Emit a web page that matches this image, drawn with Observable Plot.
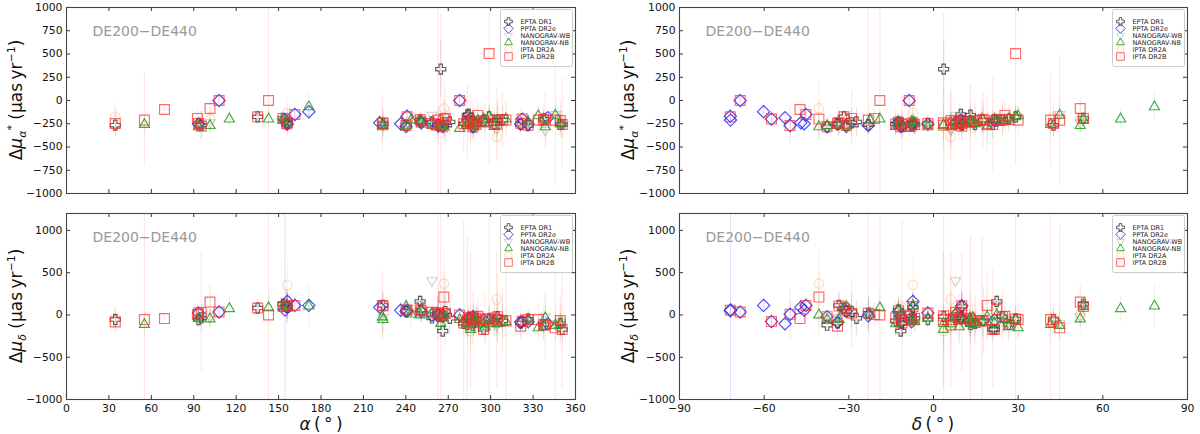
<!DOCTYPE html>
<html>
<head>
<meta charset="utf-8">
<script src="https://cdn.jsdelivr.net/npm/d3@7"></script>
<script src="https://cdn.jsdelivr.net/npm/@observablehq/plot@0.6"></script>
<style>
  body { margin: 0; background: #fff; font-family: "DejaVu Sans", sans-serif; }
  #chart { position: relative; width: 1200px; height: 434px; overflow: hidden; }
  #chart > svg, #chart > .lbl { position: absolute; }
  .lbl { font-size: 17px; color: #111; white-space: nowrap; line-height: 1; }
  .lbl sup, .lbl sub { font-size: 11px; line-height: 0; }
  .rot { transform: translate(-50%, -50%) rotate(-90deg); }
  .hor { transform: translate(-50%, -50%); }
</style>
</head>
<body>
<div id="chart"></div>
<script>
// pulsar positions: name, right ascension (deg), declination (deg)
const pulsars = [
  ["J0218+4232", 34.5, 42.5], ["J0340+4130", 55.1, 41.5], ["J0437-4715", 69.3, -47.3],
  ["J0610-2100", 92.6, -21.0], ["J0613-0200", 93.4, -2.0], ["J0621+1002", 95.3, 10.0],
  ["J0645+5158", 101.5, 52.0], ["J0711-6830", 107.9, -68.5], ["J0740+6620", 115.2, 66.3],
  ["J0900-3144", 135.2, -31.7], ["J0931-1902", 142.9, -19.0], ["J1012+5307", 153.1, 53.1],
  ["J1017-7156", 154.5, -71.9], ["J1022+1001", 155.7, 10.0], ["J1024-0719", 156.2, -7.3],
  ["J1045-4509", 161.5, -45.2], ["J1125+7819", 171.4, 78.3], ["J1125-6014", 171.4, -60.2],
  ["J1446-4701", 221.6, -47.0], ["J1453+1902", 223.4, 19.0], ["J1455-3330", 223.9, -33.5],
  ["J1545-4550", 236.4, -45.8], ["J1600-3053", 240.2, -30.9], ["J1603-7202", 240.9, -72.0],
  ["J1614-2230", 243.7, -22.5], ["J1640+2224", 250.1, 22.4], ["J1643-1224", 250.9, -12.4],
  ["J1713+0747", 258.5, 7.8], ["J1730-2304", 262.6, -23.1], ["J1732-5049", 263.1, -50.8],
  ["J1738+0333", 264.7, 3.6], ["J1741+1351", 265.4, 13.9], ["J1744-1134", 266.1, -11.6],
  ["J1747-4036", 266.9, -40.6], ["J1751-2857", 267.9, -29.0], ["J1804-2717", 271.1, -27.3],
  ["J1832-0836", 278.1, -8.6], ["J1843-1113", 280.9, -11.2], ["J1853+1303", 283.5, 13.1],
  ["J1857+0943", 284.4, 9.7], ["J1903+0327", 285.8, 3.5], ["J1909-3744", 287.4, -37.7],
  ["J1910+1256", 287.5, 12.9], ["J1911-1114", 287.9, -11.2], ["J1918-0642", 289.7, -6.7],
  ["J1923+2515", 290.9, 25.3], ["J1939+2134", 295.0, 21.6], ["J1944+0907", 296.0, 9.1],
  ["J1955+2908", 298.9, 29.1], ["J2010-1323", 302.6, -13.4], ["J2017+0603", 304.3, 6.1],
  ["J2019+2425", 304.9, 24.4], ["J2033+1734", 308.4, 17.6], ["J2043+1711", 310.8, 17.2],
  ["J2124-3358", 321.2, -34.0], ["J2129-5721", 322.3, -57.4], ["J2145-0750", 326.5, -7.8],
  ["J2214+3000", 333.7, 30.0], ["J2229+2643", 337.5, 26.7], ["J2234+0611", 338.6, 6.2],
  ["J2241-5236", 340.4, -52.6], ["J2302+4442", 345.7, 44.7], ["J2317+1439", 349.3, 14.7],
  ["J2322+2057", 350.6, 21.0]
];

// per data set: pulsar, Δμα*, σ, Δμδ, σ  (μas/yr)
const eptaDR1 = [
  ["J0218+4232", -265, 120, -55, 100], ["J0613-0200", -250, 60, -55, 70], ["J0621+1002", -265, 150, -35, 150],
  ["J0900-3144", -175, 60, 82, 60], ["J1012+5307", -193, 40, 129, 60], ["J1022+1001", -254, 80, 100, 200],
  ["J1024-0719", -240, 100, 90, 150], ["J1455-3330", -250, 90, 113, 150], ["J1600-3053", -265, 60, 43, 80],
  ["J1640+2224", -211, 60, 160, 80], ["J1643-1224", -230, 80, 60, 120], ["J1713+0747", -230, 40, -35, 40],
  ["J1730-2304", -260, 100, 20, 200], ["J1738+0333", 337, 300, -20, 150], ["J1744-1134", -270, 60, -191, 60],
  ["J1751-2857", -240, 150, 40, 200], ["J1804-2717", -230, 150, -40, 200], ["J1843-1113", -250, 100, -100, 150],
  ["J1853+1303", -158, 80, -113, 150], ["J1857+0943", -150, 80, -35, 80], ["J1909-3744", -283, 30, -121, 40],
  ["J1910+1256", -220, 100, -60, 120], ["J1911-1114", -280, 120, -90, 150], ["J1918-0642", -255, 80, -40, 100],
  ["J1939+2134", -215, 40, -172, 60], ["J1955+2908", -175, 120, -47, 150], ["J2010-1323", -250, 100, -70, 120],
  ["J2019+2425", -210, 150, -20, 200], ["J2033+1734", -210, 150, -70, 200], ["J2124-3358", -254, 80, -94, 100],
  ["J2145-0750", -270, 60, -50, 80], ["J2229+2643", -200, 80, -113, 100], ["J2317+1439", -258, 80, -100, 100],
  ["J2322+2057", -258, 150, -172, 150]
];
const pptaDR2e = [
  ["J0613-0200", -254, 40, 23, 50], ["J0711-6830", 0, 30, 35, 40], ["J1017-7156", -211, 80, 60, 1400],
  ["J1022+1001", -229, 60, 110, 150], ["J1024-0719", -254, 60, 160, 100], ["J1045-4509", -150, 60, 113, 80],
  ["J1125-6014", -120, 60, 113, 80], ["J1446-4701", -240, 80, 90, 100], ["J1545-4550", -250, 80, 55, 100],
  ["J1600-3053", -280, 40, 43, 60], ["J1603-7202", -170, 60, 50, 80], ["J1643-1224", -240, 80, 40, 120],
  ["J1713+0747", -250, 30, 0, 40], ["J1730-2304", -270, 100, -10, 200], ["J1732-5049", -270, 100, 8, 150],
  ["J1744-1134", -280, 40, -16, 50], ["J1832-0836", 0, 60, 0, 80], ["J1857+0943", -211, 80, -35, 100],
  ["J1909-3744", -283, 20, -20, 30], ["J1939+2134", -215, 40, -60, 60], ["J2124-3358", -254, 80, -86, 100],
  ["J2129-5721", -200, 60, -78, 80], ["J2145-0750", -254, 60, -80, 80], ["J2241-5236", -185, 60, -105, 80]
];
const nanogravWB = [
  ["J0613-0200", -260, 80, -55, 100], ["J0645+5158", -240, 100, -20, 150], ["J1012+5307", -200, 80, 100, 100],
  ["J1455-3330", -250, 150, -30, 200], ["J1600-3053", -260, 80, 80, 100], ["J1640+2224", -200, 80, 130, 100],
  ["J1713+0747", -158, 40, 406, 60], ["J1744-1134", -270, 80, -30, 100], ["J1853+1303", -230, 150, -150, 200],
  ["J1909-3744", -260, 30, -40, 40], ["J1918-0642", -290, 100, -60, 150], ["J1939+2134", -210, 60, -90, 80],
  ["J2017+0603", -300, 150, -120, 200], ["J2145-0750", -230, 100, -80, 150], ["J2234+0611", -320, 150, -20, 200],
  ["J2302+4442", -150, 150, -100, 200], ["J2317+1439", -240, 100, -90, 150]
];
const nanogravNB = [
  ["J0340+4130", -258, 100, -113, 150], ["J0613-0200", -283, 60, -35, 80], ["J0645+5158", -270, 80, -47, 100],
  ["J0740+6620", -200, 100, 74, 150], ["J0931-1902", -200, 100, 85, 150], ["J1012+5307", -210, 60, 100, 80],
  ["J1024-0719", -230, 100, 110, 150], ["J1125+7819", -68, 150, 105, 250], ["J1453+1902", -283, 150, -23, 250],
  ["J1455-3330", -270, 100, -55, 150], ["J1600-3053", -270, 60, 100, 80], ["J1614-2230", -210, 100, 10, 150],
  ["J1640+2224", -215, 60, 0, 80], ["J1643-1224", -240, 80, 60, 150], ["J1713+0747", -265, 30, 20, 40],
  ["J1738+0333", -265, 100, -100, 150], ["J1741+1351", -240, 100, -30, 150], ["J1744-1134", -265, 60, 5, 80],
  ["J1747-4036", -283, 150, 0, 250], ["J1832-0836", -300, 100, -55, 150], ["J1853+1303", -250, 100, -100, 150],
  ["J1857+0943", -230, 60, -60, 80], ["J1903+0327", -265, 150, -172, 200], ["J1909-3744", -270, 20, -55, 30],
  ["J1910+1256", -220, 100, -40, 150], ["J1918-0642", -240, 80, -80, 100], ["J1923+2515", -215, 100, -60, 150],
  ["J1939+2134", -200, 40, -100, 60], ["J1944+0907", -245, 100, -140, 150], ["J1955+2908", -175, 100, -60, 150],
  ["J2010-1323", -280, 100, -105, 150], ["J2017+0603", -230, 100, -105, 150], ["J2043+1711", -200, 100, -80, 150],
  ["J2145-0750", -230, 80, -60, 100], ["J2214+3000", -165, 100, -152, 150], ["J2229+2643", -200, 100, -140, 150],
  ["J2234+0611", -283, 100, -35, 150], ["J2302+4442", -158, 100, -125, 150], ["J2317+1439", -250, 100, -113, 150]
];
const iptaDR2A = [
  ["J0218+4232", -175, 150, -30, 150], ["J0613-0200", -230, 80, 10, 100], ["J0645+5158", -200, 150, 0, 200],
  ["J1022+1001", -230, 100, 120, 150], ["J1024-0719", -133, 150, 355, 300], ["J1600-3053", -250, 80, 60, 100],
  ["J1713+0747", -240, 40, 20, 60], ["J1744-1134", -250, 80, 100, 100], ["J1747-4036", -85, 300, 371, 400],
  ["J1903+0327", -250, 200, -191, 300], ["J1909-3744", -270, 30, -30, 40], ["J2017+0603", -390, 200, 183, 300],
  ["J2124-3358", -230, 150, -60, 200], ["J2317+1439", -220, 150, -70, 200]
];
const iptaDR2B = [
  ["J0218+4232", -247, 150, -82, 150], ["J0340+4130", -211, 500, -55, 1500], ["J0437-4715", -97, 30, -43, 30],
  ["J0610-2100", -193, 100, 4, 150], ["J0613-0200", -247, 60, 23, 80], ["J0621+1002", -276, 150, 30, 700],
  ["J0645+5158", -86, 100, 152, 200], ["J0711-6830", 0, 40, 35, 60], ["J0900-3144", -175, 80, 82, 100],
  ["J0931-1902", 0, 1200, 0, 1500], ["J1012+5307", -193, 60, 100, 80], ["J1022+1001", -250, 100, 110, 150],
  ["J1024-0719", -240, 150, 100, 200], ["J1045-4509", -150, 80, 113, 100], ["J1453+1902", -247, 300, 113, 400],
  ["J1455-3330", -240, 150, 105, 150], ["J1600-3053", -270, 60, 55, 80], ["J1603-7202", -175, 80, 55, 100],
  ["J1640+2224", -205, 80, 62, 100], ["J1643-1224", -235, 100, 50, 150], ["J1713+0747", -247, 40, 31, 60],
  ["J1730-2304", -211, 1200, 23, 1500], ["J1732-5049", -270, 200, 8, 300], ["J1738+0333", -265, 1200, -10, 1500],
  ["J1744-1134", -283, 60, -16, 80], ["J1747-4036", -200, 200, 211, 300], ["J1751-2857", -193, 300, 20, 400],
  ["J1832-0836", 0, 60, 0, 80], ["J1843-1113", -250, 300, -94, 1200], ["J1853+1303", -230, 400, -60, 1000],
  ["J1857+0943", -211, 100, -35, 150], ["J1903+0327", -240, 300, -55, 800], ["J1909-3744", -283, 30, -20, 40],
  ["J1910+1256", -230, 200, -40, 300], ["J1911-1114", -260, 150, -60, 200], ["J1918-0642", -258, 100, -40, 150],
  ["J1923+2515", -160, 150, -16, 200], ["J1939+2134", -215, 40, -172, 60], ["J1944+0907", -230, 200, -50, 300],
  ["J1955+2908", 505, 1200, -47, 1500], ["J2010-1323", -254, 150, -35, 200], ["J2017+0603", -254, 400, -55, 800],
  ["J2019+2425", -211, 200, -20, 300], ["J2033+1734", -204, 300, -66, 400], ["J2043+1711", -211, 200, -70, 1000],
  ["J2124-3358", -245, 100, -133, 150], ["J2129-5721", -200, 80, -78, 100], ["J2145-0750", -265, 80, -55, 100],
  ["J2214+3000", -211, 150, -55, 200], ["J2229+2643", -204, 150, -113, 200], ["J2234+0611", -215, 300, -120, 400],
  ["J2302+4442", -211, 700, -152, 1200], ["J2317+1439", -215, 200, -66, 300], ["J2322+2057", -258, 500, -172, 700]
];

const seriesNames = ["EPTA DR1", "PPTA DR2e", "NANOGRAV-WB", "NANOGRAV-NB", "IPTA DR2A", "IPTA DR2B"];
const seriesRows = [eptaDR1, pptaDR2e, nanogravWB, nanogravNB, iptaDR2A, iptaDR2B];
const raTicks = [0, 30, 60, 90, 120, 150, 180, 210, 240, 270, 300, 330, 360];
const decTicks = [-90, -60, -30, 0, 30, 60, 90];
const muATicks = [-1000, -750, -500, -250, 0, 250, 500, 750, 1000];
const muDTicks = [-1000, -500, 0, 500, 1000];
const annotation = "DE200\u2212DE440";

// styles
const colors = ["#333333", "#1a1aff", "#9a9a9a", "#1f9e1f", "#ff9a3c", "#ff2a2a"];
const markOpacity = [0.8, 0.8, 0.45, 0.85, 0.35, 0.7];
const barOpacity = [0.14, 0.14, 0.12, 0.12, 0.14, 0.13];

// outlined marker shapes, sized from the dot radius
const shape = pts => ({draw(ctx, size) {
  const r = Math.sqrt(size / Math.PI);
  pts.forEach(([x, y], i) => i ? ctx.lineTo(x * r, y * r) : ctx.moveTo(x * r, y * r));
  ctx.closePath();
}});
const plusO = shape([[-0.3,-0.9],[0.3,-0.9],[0.3,-0.3],[0.9,-0.3],[0.9,0.3],[0.3,0.3],[0.3,0.9],[-0.3,0.9],[-0.3,0.3],[-0.9,0.3],[-0.9,-0.3],[-0.3,-0.3]]);
const diamond = shape([[0,-1.1],[1.1,0],[0,1.1],[-1.1,0]]);
const triDown = shape([[0,1.05],[0.91,-0.52],[-0.91,-0.52]]);
const triUp = shape([[0,-1.05],[0.91,0.52],[-0.91,0.52]]);
const circle = {draw(ctx, size) { const r = 0.85 * Math.sqrt(size / Math.PI); ctx.moveTo(r, 0); ctx.arc(0, 0, r, 0, 2 * Math.PI); }};
const square = shape([[-0.88,-0.88],[0.88,-0.88],[0.88,0.88],[-0.88,0.88]]);
const symbols = [plusO, diamond, triDown, triUp, circle, square];

const pos = new Map(pulsars.map(([n, ra, dec]) => [n, {ra, dec}]));
const series = seriesRows.map(rows => rows.filter(r => pos.has(r[0])).map(([n, muA, eA, muD, eD]) =>
  ({psr: n, ra: pos.get(n).ra, dec: pos.get(n).dec, muA, eA, muD, eD})));

const fmt = d => (d < 0 ? "\u2212" + Math.abs(d) : String(d));

function panel(p) {
  const fw = 600 - p.ml - p.mr, fh = p.height - p.mt - p.mb;
  const marks = [];
  series.forEach((data, i) => marks.push(Plot.ruleX(data, {
    x: p.xKey, y1: d => d[p.yKey] - d[p.eKey], y2: d => d[p.yKey] + d[p.eKey],
    stroke: colors[i], strokeOpacity: barOpacity[i], strokeWidth: 1, clip: true
  })));
  series.forEach((data, i) => marks.push(Plot.dot(data, {
    x: p.xKey, y: p.yKey, symbol: symbols[i], r: 5.6, fill: "none",
    stroke: colors[i], strokeOpacity: markOpacity[i], strokeWidth: 1.15, clip: true
  })));
  marks.push(Plot.text([annotation], {frameAnchor: "top-left", dx: 26, dy: 19, text: d => d, fontSize: 14, fill: "#999"}));
  marks.push(Plot.tickX(p.xTicks, {x: d => d, insetTop: fh - 4, stroke: "#333"}));
  marks.push(Plot.tickX(p.xTicks, {x: d => d, insetBottom: fh - 4, stroke: "#333"}));
  marks.push(Plot.tickY(p.yTicks, {y: d => d, insetRight: fw - 4, stroke: "#333"}));
  marks.push(Plot.tickY(p.yTicks, {y: d => d, insetLeft: fw - 4, stroke: "#333"}));
  marks.push(Plot.axisY(p.yTicks, {tickSize: 0, tickPadding: 4, tickFormat: fmt, label: null, fontSize: 10.8}));
  if (p.xAxis) marks.push(Plot.axisX(p.xTicks, {tickSize: 0, tickPadding: 5, tickFormat: fmt, label: null, fontSize: 10.8}));
  marks.push(Plot.frame({stroke: "#444", strokeWidth: 1.1}));
  const svg = Plot.plot({
    width: 600, height: p.height,
    marginLeft: p.ml, marginRight: p.mr, marginTop: p.mt, marginBottom: p.mb,
    x: {domain: p.xDomain, ...(p.xAxis ? {} : {axis: null})},
    y: {domain: p.yDomain},
    style: {fontFamily: "DejaVu Sans", fontSize: "10.8px", color: "#111", background: "transparent", overflow: "visible"},
    marks
  });
  svg.style.left = p.left + "px";
  svg.style.top = p.top + "px";
  return svg;
}

function legend(left, top) {
  const marks = [Plot.frame({fill: "white", fillOpacity: 0.85, stroke: "#ccc", rx: 2})];
  seriesNames.forEach((s, i) => marks.push(Plot.dot([s], {
    x: () => 8, y: d => d, symbol: symbols[i], r: 4.3, fill: "none",
    stroke: colors[i], strokeOpacity: markOpacity[i], strokeWidth: 1
  })));
  marks.push(Plot.text(seriesNames, {x: () => 20, y: d => d, text: d => d, textAnchor: "start", fontSize: 6.5, fill: "#222"}));
  const svg = Plot.plot({
    width: 72, height: 57, margin: 0,
    x: {domain: [0, 72], range: [0, 72], axis: null},
    y: {type: "point", domain: seriesNames, range: [6.5, 52], axis: null},
    style: {fontFamily: "DejaVu Sans", background: "transparent", overflow: "visible"},
    marks
  });
  svg.style.left = left + "px";
  svg.style.top = top + "px";
  return svg;
}

const chart = d3.select("#chart");
const specs = [
  {left: 0, top: 0, height: 200, mt: 7, mb: 7, ml: 66, mr: 25, xKey: "ra", xDomain: [0, 360], xTicks: raTicks,
   yKey: "muA", eKey: "eA", yDomain: [-1000, 1000], yTicks: muATicks, xAxis: false},
  {left: 600, top: 0, height: 200, mt: 7, mb: 7, ml: 79, mr: 13, xKey: "dec", xDomain: [-90, 90], xTicks: decTicks,
   yKey: "muA", eKey: "eA", yDomain: [-1000, 1000], yTicks: muATicks, xAxis: false},
  {left: 0, top: 200, height: 234, mt: 13, mb: 35, ml: 66, mr: 25, xKey: "ra", xDomain: [0, 360], xTicks: raTicks,
   yKey: "muD", eKey: "eD", yDomain: [-1000, 1200], yTicks: muDTicks, xAxis: true},
  {left: 600, top: 200, height: 234, mt: 13, mb: 35, ml: 79, mr: 13, xKey: "dec", xDomain: [-90, 90], xTicks: decTicks,
   yKey: "muD", eKey: "eD", yDomain: [-1000, 1200], yTicks: muDTicks, xAxis: true}
];
specs.forEach(p => chart.append(() => panel(p)));
[[500, 9], [1112, 9], [500, 215], [1112, 215]].forEach(([l, t]) => chart.append(() => legend(l, t)));

// axis titles
const lab = (html, x, y, cls) => chart.append("div").attr("class", "lbl " + cls)
  .style("left", x + "px").style("top", y + "px").html(html);
const muA = "\u0394<i>\u03bc</i><sub><i>\u03b1</i></sub><sup>*</sup> (\u03bcas\u2009yr<sup>\u22121</sup>)";
const muD = "\u0394<i>\u03bc</i><sub><i>\u03b4</i></sub> (\u03bcas\u2009yr<sup>\u22121</sup>)";
lab(muA, 16, 100, "rot");
lab(muA, 628, 100, "rot");
lab(muD, 16, 306, "rot");
lab(muD, 628, 306, "rot");
lab("<i>\u03b1</i>\u2009(\u2009\u00b0\u2009)", 321, 424, "hor");
lab("<i>\u03b4</i>\u2009(\u2009\u00b0\u2009)", 933, 424, "hor");
</script>
</body>
</html>
